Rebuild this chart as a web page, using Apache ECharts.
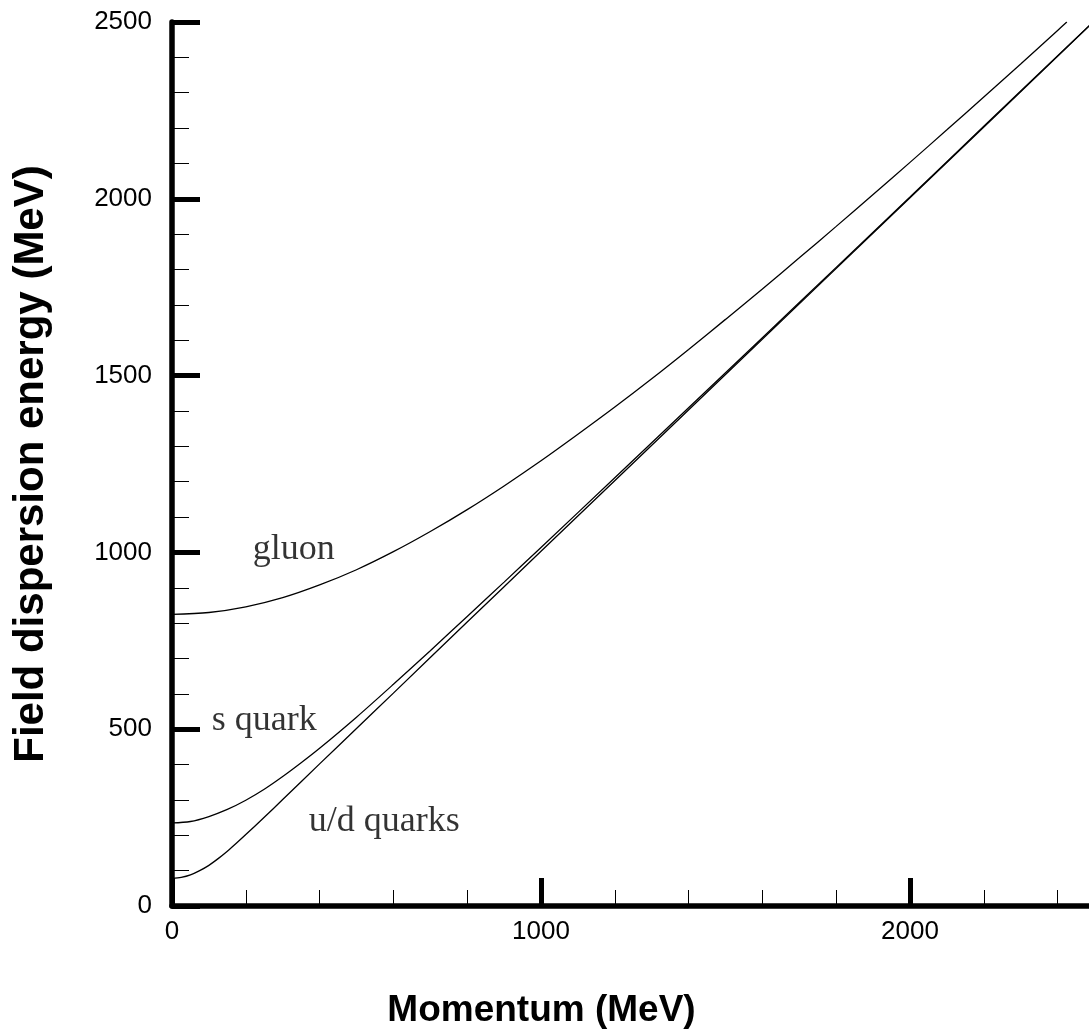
<!DOCTYPE html>
<html>
<head>
<meta charset="utf-8">
<script src="https://cdn.jsdelivr.net/npm/echarts/dist/echarts.min.js"></script>
<style>
  html, body { margin: 0; padding: 0; background: #fff; }
  #main { width: 1089px; height: 1032px; }
</style>
</head>
<body>
<div id="main"></div>
<script>
// momentum (MeV) / dispersion energy (MeV)
const gluonP = [0, 100, 200, 300, 400, 500, 600, 700, 800, 900, 1000, 1100, 1200, 1300, 1400, 1500, 1600, 1700, 1800, 1900, 2000, 2100, 2200, 2300, 2400, 2425];
const gluonE = [825, 830, 846, 872, 908, 951, 1002, 1059, 1121, 1188, 1259, 1334, 1411, 1491, 1574, 1659, 1745, 1833, 1922, 2012, 2103, 2195, 2288, 2381, 2476, 2500];

const sP = [0, 50, 100, 150, 200, 250, 300, 350, 400, 500, 600, 700, 800, 900, 1000, 1200, 1400, 1600, 1800, 2000, 2200, 2500];
const sE = [235, 239, 253, 273, 299, 330, 366, 405, 446, 534, 627, 722, 819, 916, 1014, 1211, 1409, 1607, 1806, 2005, 2205, 2504];

const udP = [0, 25, 50, 75, 100, 125, 150, 175, 200, 250, 300, 400, 500, 600, 800, 1000, 1500, 2000, 2500];
const udE = [78, 81, 88, 100, 115, 134, 155, 178, 202, 251, 301, 402, 502, 602, 803, 1003, 1503, 2003, 2503];

// curve labels, placed in data coordinates
const labelText = ["gluon", "s quark", "u/d quarks"];
const labelP = [330, 250, 575];
const labelE = [1008, 524, 238];

const xTitle = "Momentum (MeV)";
const yTitle = "Field dispersion energy (MeV)";

const zip = (xs, ys) => xs.map((x, i) => [x, ys[i]]);

const sansFont = 'Arial, "Liberation Sans", Helvetica, sans-serif';
const serifFont = '"Times New Roman", "Liberation Serif", Times, serif';

const myChart = echarts.init(document.getElementById("main"), null, { renderer: "canvas" });

const curve = (name, data) => ({
  name: name,
  type: "line",
  data: data,
  smooth: 0.3,
  showSymbol: false,
  symbol: "none",
  lineStyle: { color: "#000", width: 1.3 },
  silent: true,
});

const option = {
  animation: false,
  backgroundColor: "#fff",
  grid: {
    left: 172,
    top: 22,
    width: 1107,
    bottom: 126,
    containLabel: false,
    outerBoundsMode: "none",
  },
  xAxis: {
    type: "value",
    min: 0,
    max: 3000,
    interval: 1000,
    name: xTitle,
    nameLocation: "middle",
    nameGap: 86,
    // title sits under the 1000 tick, not under the axis middle
    nameTextStyle: { fontFamily: sansFont, fontWeight: "bold", fontSize: 37, color: "#000", padding: [0, 368, 0, 0] },
    axisLine: { show: true, onZero: false, lineStyle: { color: "#000", width: 5.5 } },
    axisTick: { show: true, inside: true, length: 28, lineStyle: { color: "#000", width: 5 } },
    minorTick: { show: true, splitNumber: 5, length: 16, lineStyle: { color: "#000", width: 1 } },
    axisLabel: {
      fontFamily: sansFont, fontSize: 26, color: "#000", margin: 13, showMaxLabel: false,
      formatter: (v) => String(v),
    },
    splitLine: { show: false },
    minorSplitLine: { show: false },
  },
  yAxis: {
    type: "value",
    min: 0,
    max: 2500,
    interval: 500,
    name: yTitle,
    nameLocation: "middle",
    nameRotate: 90,
    nameGap: 120,
    nameTextStyle: { fontFamily: sansFont, fontWeight: "bold", fontSize: 42, color: "#000" },
    axisLine: { show: true, onZero: false, lineStyle: { color: "#000", width: 5.5 } },
    axisTick: { show: true, inside: true, length: 28, lineStyle: { color: "#000", width: 5 } },
    minorTick: { show: true, splitNumber: 5, length: 17, lineStyle: { color: "#000", width: 1 } },
    axisLabel: {
      fontFamily: sansFont, fontSize: 26, color: "#000", margin: 20,
      formatter: (v) => String(v),
    },
    splitLine: { show: false },
    minorSplitLine: { show: false },
  },
  series: [
    curve("gluon", zip(gluonP, gluonE)),
    curve("s quark", zip(sP, sE)),
    curve("u/d quarks", zip(udP, udE)),
    {
      name: "labels",
      type: "scatter",
      symbolSize: 0,
      silent: true,
      data: labelText.map((t, i) => ({ name: t, value: [labelP[i], labelE[i]] })),
      label: {
        show: true,
        position: "inside",
        formatter: (p) => p.name,
        fontFamily: serifFont,
        fontSize: 36,
        color: "#000",
        textBorderWidth: 0,
      },
    },
  ],
};

myChart.setOption(option);
</script>
</body>
</html>
